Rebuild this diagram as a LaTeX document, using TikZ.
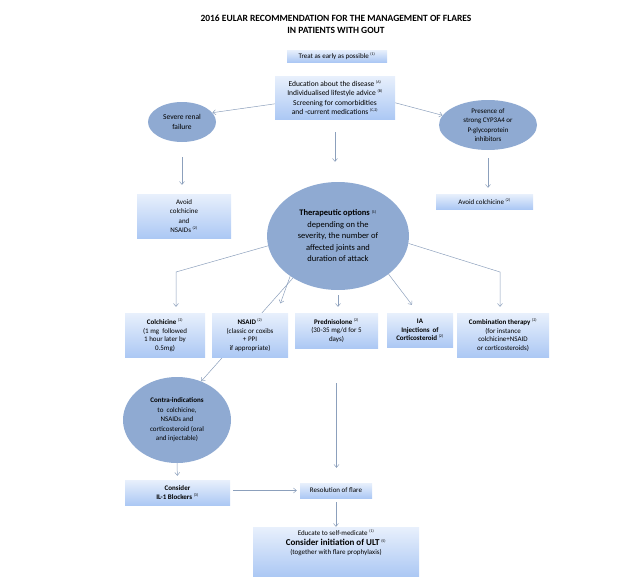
\documentclass[tikz,border=0pt]{standalone}
\usepackage{fontspec}
\setmainfont{Carlito}
\usetikzlibrary{shapes.geometric,arrows.meta,backgrounds}
\definecolor{ovalblue}{RGB}{143,170,210}
\definecolor{boxtop}{RGB}{232,240,252}
\definecolor{boxbottom}{RGB}{172,200,244}
\definecolor{linegray}{RGB}{140,160,188}
\newcommand{\flareref}[1]{\textsuperscript{\fontsize{4}{4}\selectfont(#1)}}
\begin{document}
\begin{tikzpicture}[x=1pt, y=-1pt, font=\fontsize{7}{8.5}\selectfont,
	oval/.style={ellipse, fill=ovalblue, inner sep=0pt, align=center},
	panel/.style={rectangle, top color=boxtop, bottom color=boxbottom, inner sep=0pt, align=center},
	link/.style={draw=linegray, line width=0.5pt, -{Straight Barb[length=3pt,width=5pt]}}]
		\useasboundingbox (0,0) rectangle (643,581);
		\node[font=\bfseries\fontsize{9.5}{12}\selectfont, align=center] (title) at (336,24) {2016 EULAR RECOMMENDATION FOR THE MANAGEMENT OF FLARES\\IN PATIENTS WITH GOUT};
		\node[panel, minimum width=100pt, minimum height=12pt] (treat) at (337,56) {Treat as early as possible \flareref{1}};
		\node[panel, minimum width=120pt, minimum height=43pt, font=\fontsize{7.5}{9.3}\selectfont] (edu) at (335,97.5) {Education about the disease \flareref{A}\\Individualised lifestyle advice \flareref{B}\\Screening for comorbidities\\and -current medications \flareref{C,2}};
		\node[oval, minimum width=68pt, minimum height=40pt, font=\fontsize{7.5}{9.7}\selectfont] (renal) at (182,122) {Severe renal\\failure};
		\node[oval, minimum width=98pt, minimum height=50pt, font=\fontsize{7}{9.5}\selectfont] (cyp) at (488,125) {Presence of\\strong CYP3A4 or\\P-glycoprotein\\inhibitors};
		\node[panel, minimum width=94pt, minimum height=44pt, font=\fontsize{7}{9.5}\selectfont] (avoidcn) at (184,216) {Avoid\\colchicine\\and\\NSAIDs \flareref{2}};
		\node[panel, minimum width=97pt, minimum height=15pt] (avoidc) at (484.5,201.5) {Avoid colchicine \flareref{2}};
		\node[oval, minimum width=142pt, minimum height=108pt, font=\fontsize{8.5}{11.5}\selectfont] (therap) at (338,236) {\textbf{Therapeutic options} \flareref{1}\\depending on the\\severity, the number of\\affected joints and\\duration of attack};
		\node[panel, minimum width=80pt, minimum height=44pt] (colch) at (165,335) {\textbf{Colchicine} \flareref{2}\\(1 mg~ followed\\1 hour later by\\0.5mg)};
		\node[panel, minimum width=76pt, minimum height=44pt] (nsaid) at (250,335) {\textbf{NSAID} \flareref{2}\\(classic or coxibs\\+ PPI\\if appropriate)};
		\node[panel, minimum width=83pt, minimum height=35pt] (pred) at (336.5,330.5) {\textbf{Prednisolone} \flareref{2}\\(30-35 mg/d for 5\\days)};
		\node[panel, minimum width=66pt, minimum height=34pt] (ia) at (420,330) {\textbf{IA}\\\textbf{Injections~ of}\\\textbf{Corticosteroid} \flareref{2}};
		\node[panel, minimum width=92pt, minimum height=44pt] (comb) at (503,335) {\textbf{Combination therapy} \flareref{2}\\(for instance\\colchicine+NSAID\\or corticosteroids)};
		\node[oval, minimum width=108pt, minimum height=86pt, font=\fontsize{7}{9.5}\selectfont] (contra) at (177,420) {\textbf{Contra-indications}\\to~ colchicine,\\NSAIDs and\\corticosteroid (oral\\and injectable)};
		\node[panel, minimum width=105pt, minimum height=25pt] (il1) at (177.5,492.5) {\textbf{Consider}\\\textbf{IL-1 Blockers} \flareref{3}};
		\node[panel, minimum width=72pt, minimum height=15pt] (resol) at (336,490.5) {Resolution of flare};
		\node[panel, minimum width=166pt, minimum height=49pt] (ult) at (336,551.5) {};
		\node[align=center, inner sep=0pt, anchor=north] (ulttxt) at ([yshift=-3pt]ult.north) {Educate to self-medicate \flareref{1}\\[1pt]{\bfseries\fontsize{9}{11}\selectfont Consider initiation of ULT} \flareref{5}\\[1pt](together with flare prophylaxis)};
		\coordinate (bendL) at (176,272);
		\coordinate (bendR) at (500,272);
		\begin{scope}[on background layer]
		\draw[link] (edu.186) -- (renal.17);
		\draw[link] (edu.355) -- (cyp.168);
		\draw[link, shorten <=13pt, shorten >=20pt] (edu.south) -- (edu.south |- therap.north);
		\draw[link, shorten <=15pt, shorten >=9pt] (renal.south) -- (renal.south |- avoidcn.north);
		\draw[link, shorten <=8pt, shorten >=6pt] (cyp.south) -- (cyp.south |- avoidc.north);
		\draw[link, shorten >=6pt] (therap.188) -- (bendL) -- (bendL |- colch.north);
		\draw[link, shorten >=6pt] (therap.354) -- (bendR) -- (bendR |- comb.north);
		\draw[link, shorten >=10pt] (therap.220) -- ([xshift=27pt]nsaid.north);
		\draw[link] (therap.223) -- (contra.58);
		\draw[link, shorten <=5pt, shorten >=6pt] (therap.south) -- (therap.south |- pred.north);
		\draw[link, shorten >=10pt] (therap.323) -- ([xshift=-2pt]ia.north);
		\draw[link, shorten <=35pt, shorten >=15pt] (pred.south) -- (pred.south |- resol.north);
		\draw[link, shorten >=4pt] (contra.south) -- (il1.north);
		\draw[link, shorten <=3pt, shorten >=3pt] (il1.east |- resol.west) -- (resol.west);
		\draw[link, shorten <=4pt] (resol.south) -- (ult.north);
		\end{scope}
	\end{tikzpicture}
\end{document}
